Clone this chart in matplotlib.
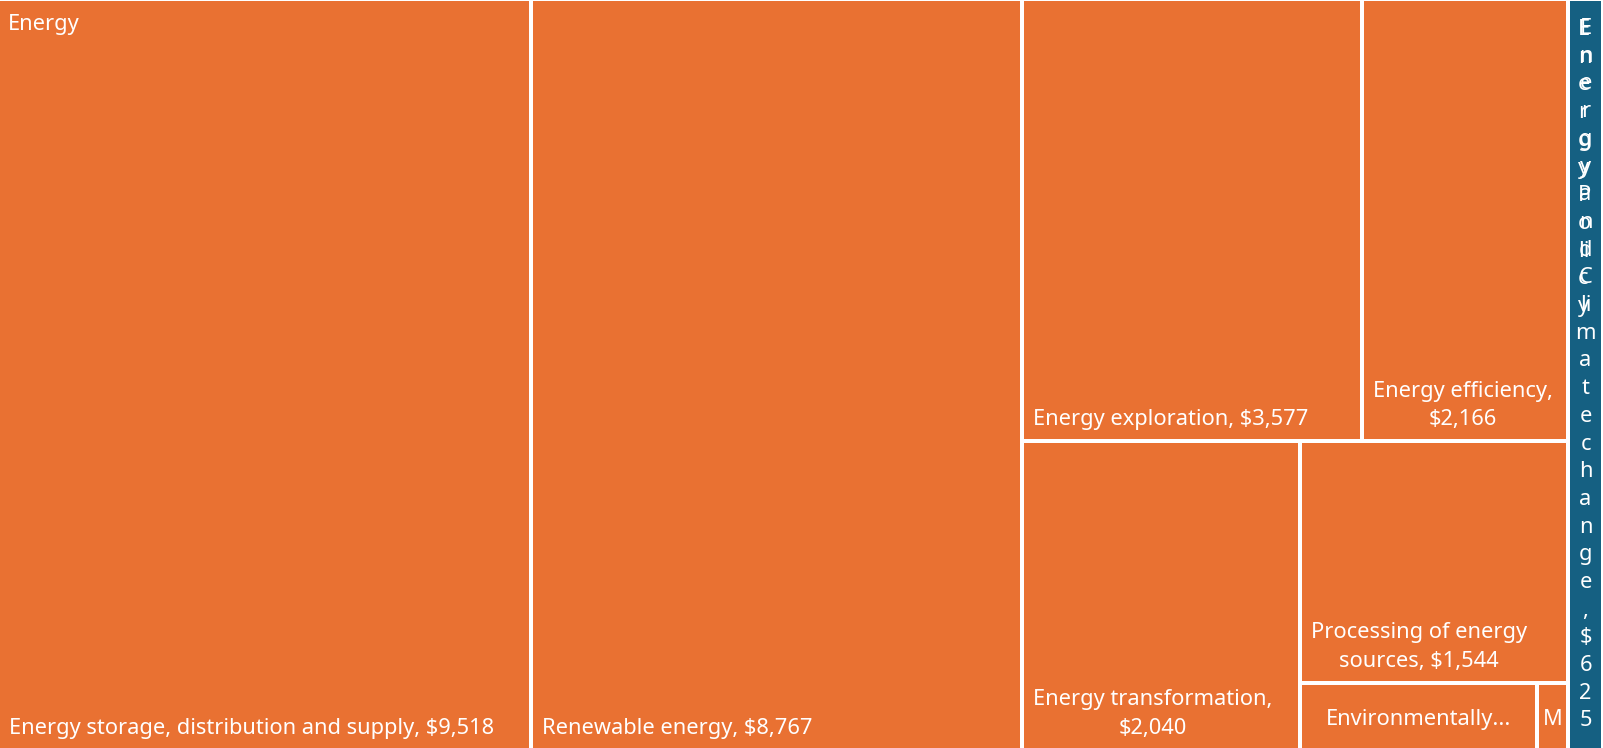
import numpy as np
import matplotlib
matplotlib.use("Agg")
import matplotlib.pyplot as plt
from matplotlib.patches import Rectangle
from matplotlib.font_manager import FontProperties

# Budget treemap: groups and their items
group_names = ["Energy", "Energy Policy"]
group_colors = ["#E97132", "#156082"]

item_names = [
    "Energy storage, distribution and supply",
    "Renewable energy",
    "Energy exploration",
    "Energy efficiency",
    "Energy transformation",
    "Processing of energy sources",
    "Environmentally friendly energy",
    "Miscellaneous",
    "Energy and Climate change",
]
item_group = [0, 0, 0, 0, 0, 0, 0, 0, 1]
item_values = [9518, 8767, 3577, 2166, 2040, 1544, 377, 50, 625]

W, H = 1603, 748
FONT = "Noto Sans"
FS = 15.7
PAD = 11          # inner padding of a tile, px
LINE = 28.6       # line pitch for wrapped labels, px
CHAR_LINE = 27.7  # line pitch for character-wrapped labels, px
BASE = 16         # last baseline above tile bottom, px
EDGE = 4          # white gap between tiles, px

fig = plt.figure(figsize=(W / 100, H / 100), dpi=100)
ax = fig.add_axes([0, 0, 1, 1])
ax.set_xlim(0, W)
ax.set_ylim(H, 0)
ax.axis("off")

renderer = fig.canvas.get_renderer()
prop = FontProperties(family=FONT, size=FS)


def text_w(s):
    if not s:
        return 0
    w, h, d = renderer.get_text_width_height_descent(s, prop, ismath=False)
    return w


def mean_ratio(row, short):
    t = sum(row) / short
    return np.mean([max(t / (v / t), (v / t) / t) for v in row])


def squarify(areas, x, y, w, h):
    # squarified layout, rows kept while the mean aspect ratio improves
    rects = []
    vals = list(areas)
    while vals:
        short = min(w, h)
        n = 1
        while n < len(vals) and mean_ratio(vals[:n + 1], short) <= mean_ratio(vals[:n], short):
            n += 1
        row = vals[:n]
        t = sum(row) / short
        pos = 0
        for v in row:
            l = v / t
            if w >= h:
                rects.append((x, y + pos, t, l))
            else:
                rects.append((x + pos, y, l, t))
            pos += l
        if w >= h:
            x += t
            w -= t
        else:
            y += t
            h -= t
        vals = vals[n:]
    return rects


def wrap_words(s, maxw):
    lines, cur = [], ""
    for wd in s.split(" "):
        trial = wd if not cur else cur + " " + wd
        if not cur or text_w(trial) <= maxw:
            cur = trial
        else:
            lines.append(cur)
            cur = wd
    lines.append(cur)
    return lines


def wrap_chars(s, maxw):
    lines, cur = [], ""
    for ch in s:
        trial = cur + ch
        if cur.strip() and text_w(trial.rstrip()) > maxw:
            lines.append(cur.strip())
            cur = ch.lstrip()
        else:
            cur = trial
    if cur.strip():
        lines.append(cur.strip())
    return lines


def draw_text(x, y, s, patch, **kw):
    t = ax.text(x, y, s, color="white", fontsize=FS, family=FONT, **kw)
    t.set_clip_path(patch)
    return t


def draw_label(x, y, w, h, label, patch):
    maxw = w - 2 * PAD
    lines = [label] if text_w(label) <= maxw else wrap_words(label, maxw)
    widest = max(text_w(l) for l in lines)
    if widest <= maxw and len(lines) * LINE <= h - 2 * PAD:
        # block sits bottom-left, lines centred within the block
        cx = x + PAD + widest / 2
        n = len(lines)
        for i, line in enumerate(lines):
            draw_text(cx, y + h - BASE - (n - 1 - i) * LINE, line, patch,
                      ha="center", va="baseline")
    elif h < 2 * LINE + 2 * PAD:
        # only one line fits: truncate with an ellipsis
        first = lines[0]
        cand = first + "..." if len(lines) > 1 else first
        while text_w(cand) > maxw and len(first) > 1:
            first = first[:-1]
            cand = first + "..."
        if text_w(cand) > maxw:
            cand = first[:1]
        draw_text(x + w / 2, y + h / 2 + 3, cand, patch, ha="center", va="center")
    else:
        # narrow tile: break character by character from the top
        for i, line in enumerate(wrap_chars(label, maxw)):
            draw_text(x + w / 2, y + 35 + i * CHAR_LINE, line, patch,
                      ha="center", va="baseline")


# plot region, nudged so outer borders match the tile gaps
X0, Y0, RW, RH = -2, -1, W + 2, H + 3
total = sum(item_values)
scale = RW * RH / total

group_totals = [sum(v for v, g in zip(item_values, item_group) if g == k)
                for k in range(len(group_names))]
group_rects = squarify([v * scale for v in group_totals], X0, Y0, RW, RH)

for k, (gx, gy, gw, gh) in enumerate(group_rects):
    idx = [i for i, g in enumerate(item_group) if g == k]
    idx.sort(key=lambda i: -item_values[i])
    leaf_rects = squarify([item_values[i] * scale for i in idx], gx, gy, gw, gh)
    for i, (x, y, w, h) in zip(idx, leaf_rects):
        patch = Rectangle((x, y), w, h, facecolor=group_colors[k],
                          edgecolor="white", linewidth=EDGE * 0.72)
        ax.add_patch(patch)
        draw_label(x, y, w, h, f"{item_names[i]}, ${item_values[i]:,}", patch)

# group headers in the top-left corner of each group
for k, (gx, gy, gw, gh) in enumerate(group_rects):
    clip = Rectangle((gx, gy), gw, gh, facecolor="none", edgecolor="none")
    ax.add_patch(clip)
    name = group_names[k]
    if text_w(name) <= gw - 2 * PAD:
        draw_text(gx + 10, gy + 31, name, clip, ha="left", va="baseline")
    else:
        for i, line in enumerate(wrap_chars(name, gw - 2 * PAD)):
            draw_text(gx + 10, gy + 36 + i * CHAR_LINE, line, clip,
                      ha="left", va="baseline")

fig.savefig("out.png", dpi=100)
